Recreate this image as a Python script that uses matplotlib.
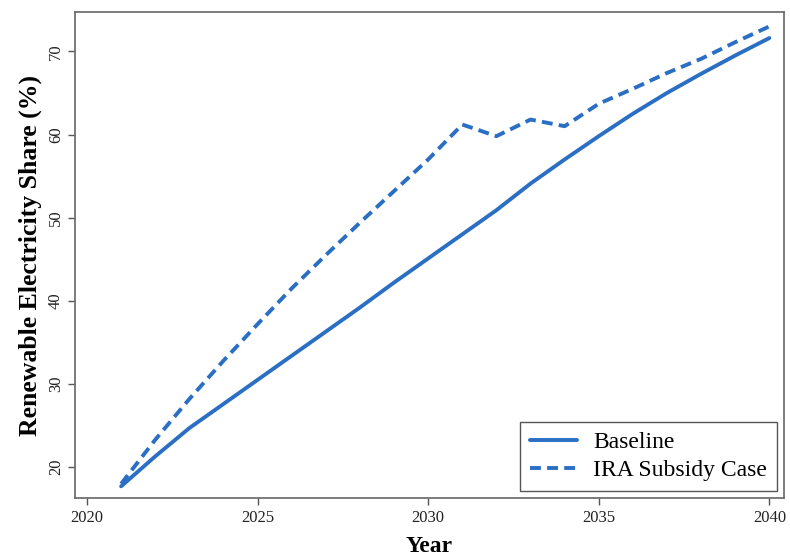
import matplotlib
matplotlib.use("Agg")
import matplotlib.pyplot as plt

years = list(range(2021, 2041))
baseline = [17.7, 21.3, 24.7, 27.6, 30.5, 33.4, 36.3, 39.2, 42.2, 45.1,
            48.0, 50.9, 54.1, 57.0, 59.8, 62.5, 65.0, 67.3, 69.5, 71.6]
ira_case = [18.0, 23.3, 28.2, 32.8, 37.2, 41.5, 45.5, 49.4, 53.2, 57.0,
            61.2, 59.8, 61.8, 61.0, 63.7, 65.5, 67.4, 69.1, 71.1, 73.0]
x_ticks = [2020, 2025, 2030, 2035, 2040]
y_ticks = [20, 30, 40, 50, 60, 70]

plt.rcParams['font.family'] = ['Liberation Serif', 'DejaVu Serif']
color = '#2a6fc4'

fig = plt.figure(figsize=(7.9, 5.57), dpi=100)
ax = fig.add_axes([0.095, 0.106, 0.897, 0.872])

ax.plot(years, baseline, color=color, lw=2.8, solid_capstyle='round',
        label='Baseline')
ax.plot(years, ira_case, color=color, lw=2.8, ls=(0, (2.8, 1.6)),
        dash_capstyle='butt', label='IRA Subsidy Case')

ax.set_xlim(2019.65, 2040.42)
ax.set_ylim(16.3, 74.7)
ax.set_xticks(x_ticks)
ax.set_yticks(y_ticks)
ax.tick_params(axis='both', labelsize=12, length=5, width=1, color='#555555',
               labelcolor='#222222')
ax.tick_params(axis='x', pad=4)
ax.tick_params(axis='y', pad=3)
for lbl in ax.get_yticklabels():
    lbl.set_rotation(90)
    lbl.set_va('center')

for s in ax.spines.values():
    s.set_color('#666666')
    s.set_linewidth(1.2)

ax.set_xlabel('Year', fontsize=17, fontweight='bold', va='center')
ax.xaxis.set_label_coords(0.5, -0.099)
ax.set_ylabel('Renewable Electricity Share (%)', fontsize=18.5,
              fontweight='bold', labelpad=4)

leg = ax.legend(loc='lower right', fontsize=17, frameon=True, fancybox=False,
                edgecolor='#555555', framealpha=1, borderaxespad=0.3,
                handlelength=2.0, labelspacing=0.3, borderpad=0.4,
                handletextpad=0.7)
leg.get_frame().set_linewidth(1.0)

fig.savefig('out.png', dpi=100)
